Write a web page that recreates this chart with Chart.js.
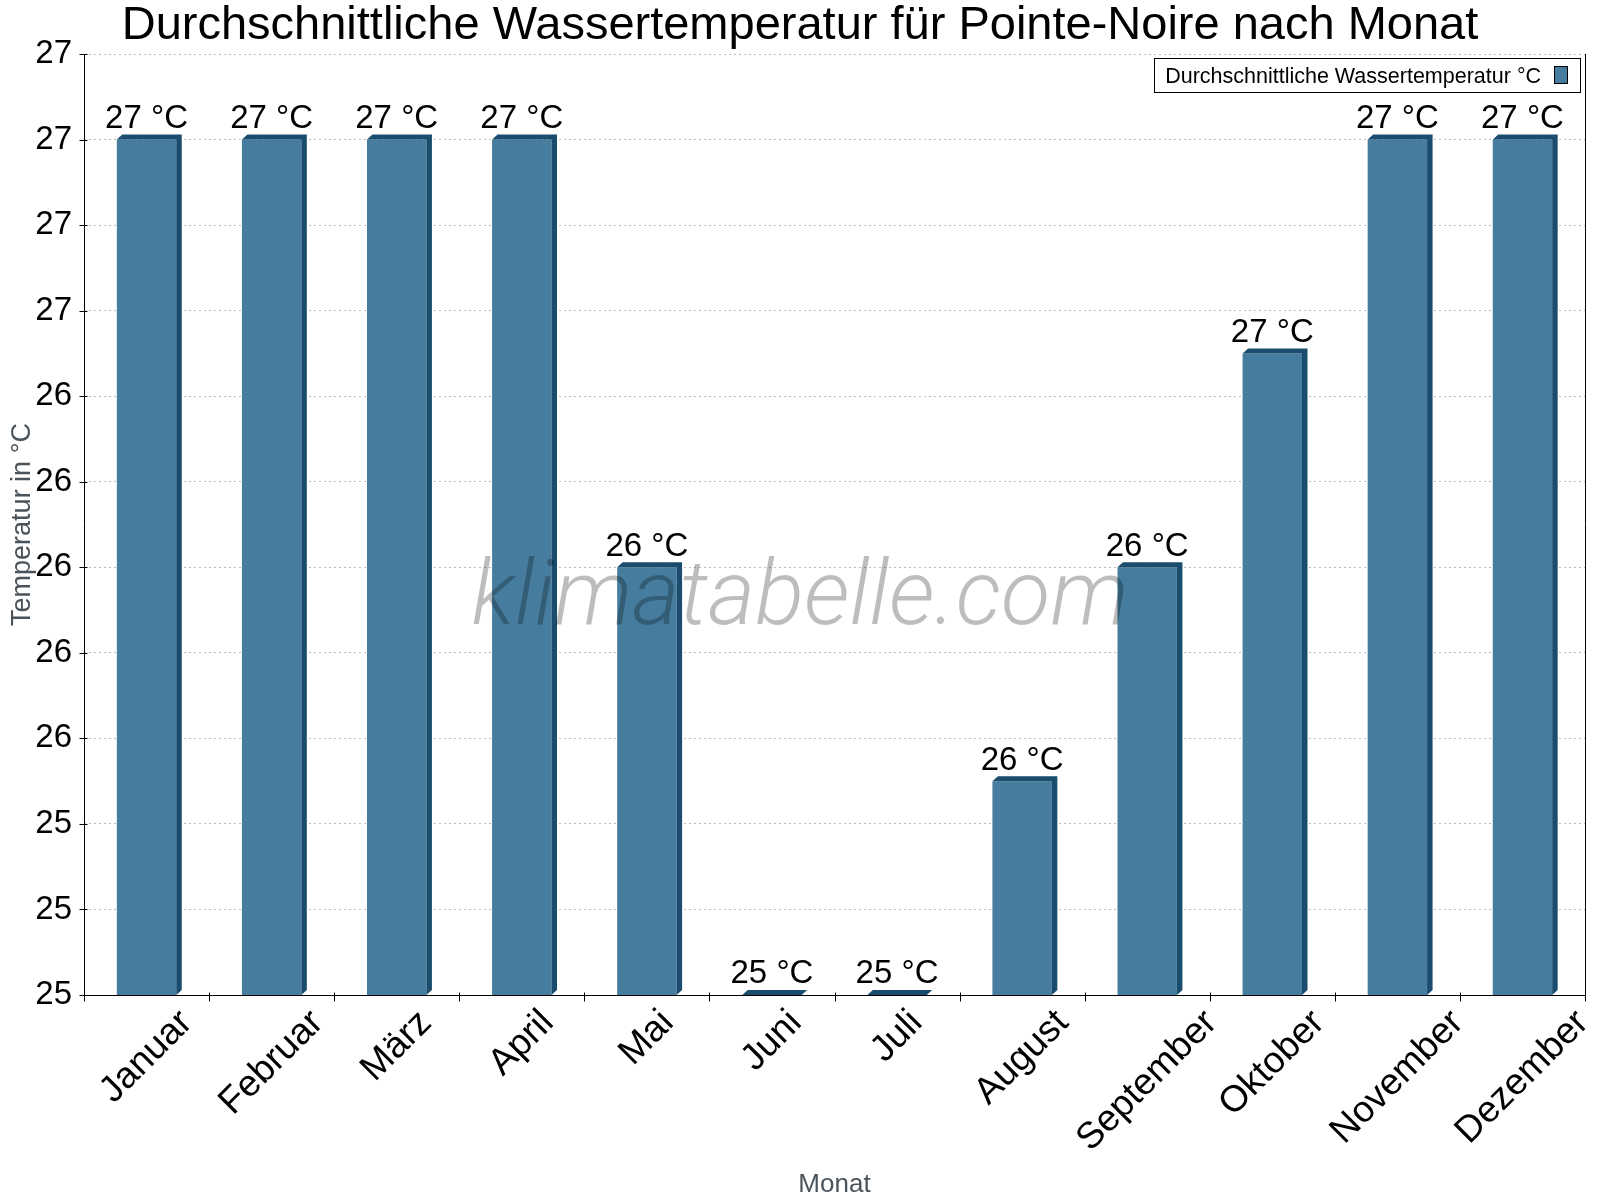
<!DOCTYPE html>
<html><head><meta charset="utf-8">
<script src="https://cdn.jsdelivr.net/npm/chart.js@4.4.1/dist/chart.umd.min.js"></script>
<style>html,body{margin:0;padding:0;background:#fff;}canvas{display:block;}</style>
</head><body>
<canvas id="c" width="1600" height="1200"></canvas>
<script>
const months = ['Januar','Februar','März','April','Mai','Juni','Juli','August','September','Oktober','November','Dezember'];
const waterTemp = [27, 27, 27, 27, 26, 25, 25, 25.5, 26, 26.5, 27, 27];
const seriesLabel = 'Durchschnittliche Wassertemperatur °C';
const chartTitle = 'Durchschnittliche Wassertemperatur für Pointe-Noire nach Monat';
const yAxisTitle = 'Temperatur in °C';
const xAxisTitle = 'Monat';
const yMin = 25, yMax = 27.2, yStep = 0.2;
const unit = ' °C';
const watermark = 'klimatabelle.com';

const FONT = '"Liberation Sans", Arial, Helvetica, sans-serif';
const FRONT = '#467C9E', DARK = '#1A4C6E';
const DEPTH_X = 5.5, DEPTH_Y = 5;
const XLABEL_SIZE = 37;

const decor = {
  id: 'decor',
  afterDatasetsDraw(chart) {
    const ctx = chart.ctx;
    const meta = chart.getDatasetMeta(0);
    const {left, right, top, bottom} = chart.chartArea;
    ctx.save();
    meta.data.forEach((bar, i) => {
      const p = bar.getProps(['x', 'y', 'width', 'base'], true);
      const l = p.x - p.width / 2, r = p.x + p.width / 2;
      const b = Math.min(p.base, bottom);
      const t = Math.min(p.y, b);
      ctx.fillStyle = DARK;
      ctx.beginPath();
      ctx.moveTo(l, t);
      ctx.lineTo(l + DEPTH_X, t - DEPTH_Y);
      ctx.lineTo(r + DEPTH_X, t - DEPTH_Y);
      ctx.lineTo(r + DEPTH_X, b - DEPTH_Y);
      ctx.lineTo(r, b);
      ctx.lineTo(r, t);
      ctx.closePath();
      ctx.fill();
      ctx.fillStyle = '#000';
      ctx.font = '33px ' + FONT;
      ctx.textAlign = 'center';
      ctx.textBaseline = 'alphabetic';
      ctx.fillText(Math.round(waterTemp[i]) + unit, p.x, t - 11.6);
    });
    // axes lines
    ctx.strokeStyle = '#000';
    ctx.lineWidth = 1;
    ctx.setLineDash([]);
    const lx = Math.round(left) + 0.5, by = Math.round(bottom) + 0.5, rx = Math.round(right) + 0.5;
    ctx.beginPath();
    ctx.moveTo(lx, top); ctx.lineTo(lx, by);
    ctx.moveTo(lx, by); ctx.lineTo(rx, by);
    ctx.moveTo(rx, top); ctx.lineTo(rx, by);
    const ys = chart.scales.y;
    ys.ticks.forEach(tk => {
      const y = Math.round(ys.getPixelForValue(tk.value)) + 0.5;
      ctx.moveTo(lx - 5, y); ctx.lineTo(lx + 3, y);
    });
    const n = months.length;
    const cw = (right - left) / n;
    for (let i = 0; i <= n; i++) {
      const x = Math.round(left + i * cw) + 0.5;
      ctx.moveTo(x, by - 3); ctx.lineTo(x, by + 6);
    }
    ctx.stroke();
    ctx.restore();
  },
  afterDraw(chart) {
    const ctx = chart.ctx;
    const xs = chart.scales.x;
    ctx.save();
    // x labels rotated 45°
    ctx.font = XLABEL_SIZE + 'px ' + FONT;
    ctx.fillStyle = '#000';
    ctx.textAlign = 'center';
    ctx.textBaseline = 'middle';
    const topY = xs.top + 9;
    months.forEach((m, i) => {
      const cx = xs.getPixelForValue(i);
      const w = ctx.measureText(m).width;
      const cy = topY + (w + XLABEL_SIZE) / 2 * Math.SQRT1_2;
      ctx.save();
      ctx.translate(cx, cy);
      ctx.rotate(-Math.PI / 4);
      ctx.fillText(m, 0, 0);
      ctx.restore();
    });
    // legend
    ctx.fillStyle = '#fff';
    ctx.fillRect(1154.5, 58.5, 426, 34);
    ctx.strokeStyle = '#000';
    ctx.lineWidth = 1;
    ctx.strokeRect(1154.5, 58.5, 426, 34);
    ctx.fillStyle = '#000';
    ctx.font = '21.5px ' + FONT;
    ctx.textAlign = 'right';
    ctx.textBaseline = 'alphabetic';
    ctx.fillText(seriesLabel, 1541, 82.5);
    ctx.fillStyle = FRONT;
    ctx.fillRect(1554.5, 66.5, 13, 17);
    ctx.strokeRect(1554.5, 66.5, 13, 17);
    // watermark
    ctx.font = 'italic 300 100px Roboto';
    const w100 = ctx.measureText(watermark).width;
    const fs = 100 * 657 / w100;
    ctx.font = 'italic 300 ' + fs.toFixed(1) + 'px Roboto';
    ctx.fillStyle = 'rgba(0,0,0,0.26)';
    ctx.textAlign = 'center';
    ctx.fillText(watermark, 800, 624);
    ctx.restore();
  }
};

new Chart(document.getElementById('c'), {
  type: 'bar',
  data: {
    labels: months,
    datasets: [{
      label: seriesLabel,
      data: waterTemp,
      backgroundColor: FRONT,
      borderWidth: 0,
      barPercentage: 0.475,
      categoryPercentage: 1.0
    }]
  },
  options: {
    responsive: false,
    animation: false,
    devicePixelRatio: 1,
    layout: { padding: { left: 15, right: 15, top: 0, bottom: 0 } },
    plugins: {
      legend: { display: false },
      tooltip: { enabled: false },
      title: {
        display: true, text: chartTitle, color: '#000',
        font: { family: FONT, size: 47, weight: 'normal', lineHeight: 1.0 },
        padding: { top: 3, bottom: 4 }
      }
    },
    scales: {
      x: {
        grid: { display: false },
        border: { display: false },
        ticks: { display: false },
        title: {
          display: true, text: xAxisTitle, color: '#4B535B',
          font: { family: FONT, size: 26, lineHeight: 1.2 },
          padding: { top: 0, bottom: 0 }
        },
        afterFit(s) { s.height = 205; }
      },
      y: {
        min: yMin, max: yMax,
        ticks: {
          stepSize: yStep, color: '#000', padding: 12,
          font: { family: FONT, size: 33 },
          callback: v => Math.round(v)
        },
        grid: { color: '#BDBDBD', lineWidth: 1, drawTicks: false },
        border: { display: false, dash: [2, 3] },
        title: {
          display: true, text: yAxisTitle, color: '#4B535B',
          font: { family: FONT, size: 27, lineHeight: 1.2 },
          padding: { top: -9, bottom: 0 }
        },
        afterFit(s) { s.width = 69; }
      }
    }
  },
  plugins: [decor]
});
</script>
</body></html>
